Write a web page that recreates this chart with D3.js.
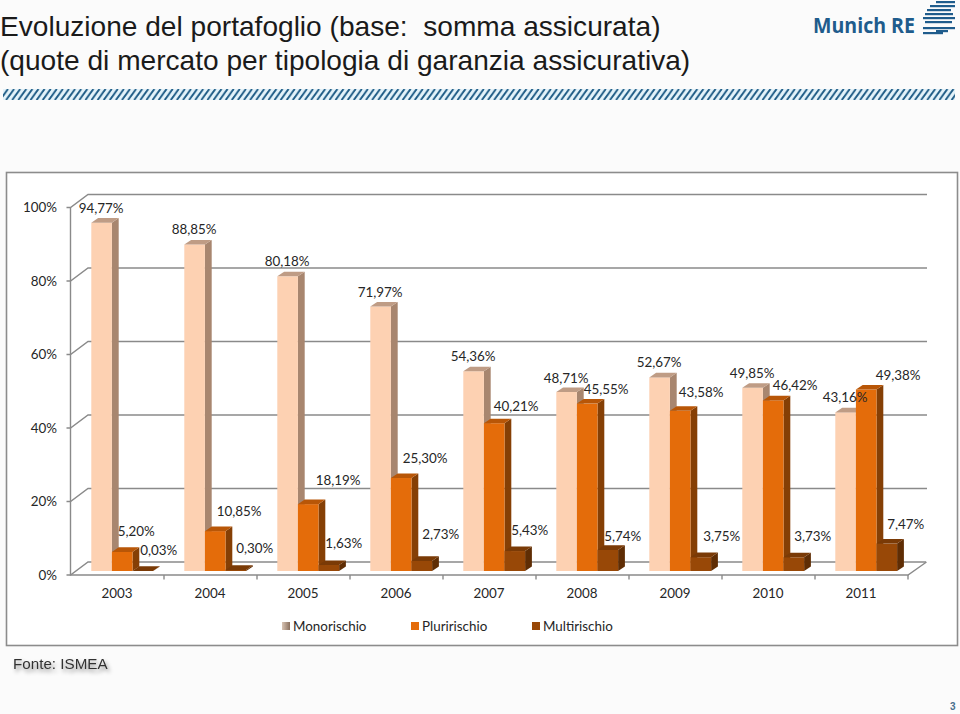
<!DOCTYPE html>
<html><head><meta charset="utf-8">
<script src="https://cdn.jsdelivr.net/npm/d3@7"></script>
<style>html,body{margin:0;padding:0;background:#fbfbfb}svg{display:block}</style>
</head><body><div id="c"></div>
<script>
// ---- data ----
const years = ["2003","2004","2005","2006","2007","2008","2009","2010","2011"];
const seriesNames = ["Monorischio","Pluririschio","Multirischio"];
const monorischio  = [94.77,88.85,80.18,71.97,54.36,48.71,52.67,49.85,43.16];
const pluririschio = [5.20,10.85,18.19,25.30,40.21,45.55,43.58,46.42,49.38];
const multirischio = [0.03,0.30,1.63,2.73,5.43,5.74,3.75,3.73,7.47];
const yTicks = [0,20,40,60,80,100];
const titleLines = ["Evoluzione del portafoglio (base:\u00a0 somma assicurata)","(quote di mercato per tipologia di garanzia assicurativa)"];

// ---- manual data-label nudges, relative to each bar's top centre ----
const labelDx = [
  [-.5,-.5,-.5,-.5,-.5,-.5,-.5,-.5,-.5],
  [14,24,30,24,22,19,21,22,32],
  [16,19,15,19,15,15,21,19,19]];
const labelDy = [
  [-15,-15,-15,-15,-15,-14,-15,-15,-15],
  [-21,-20,-24,-20,-17,-15,-19,-15,-15],
  [-21,-22,-22,-27,-21,-14,-21,-21,-20]];

const values = [monorischio,pluririschio,multirischio];
const fronts = ["#fdd1b2","#e46c0a","#984807"];
const tops   = ["#bf9c85","#b85607","#7a3a06"];
const sides  = ["#a8866f","#853f05","#5f2d04"];

const W=960,H=714;
const svg=d3.select("#c").append("svg").attr("width",W).attr("height",H);
const defs=svg.append("defs");
const pat=defs.append("pattern").attr("id","hatch").attr("patternUnits","userSpaceOnUse")
  .attr("width",6.1).attr("height",11).attr("patternTransform","translate(3,89)");
pat.append("rect").attr("width",6.1).attr("height",11).attr("fill","#e4f3fa");
pat.append("path").attr("d","M-3,11 L5,0 M3.1,11 L11.1,0").attr("stroke","#1f5c86").attr("stroke-width",1.9);
const sh=defs.append("filter").attr("id","shadow").attr("x","-10%").attr("y","-40%").attr("width","125%").attr("height","200%");
sh.append("feDropShadow").attr("dx",2).attr("dy",3).attr("stdDeviation",2).attr("flood-color","#000").attr("flood-opacity",.45);
const lg=defs.append("linearGradient").attr("id","monoSw");
lg.append("stop").attr("offset",0).attr("stop-color","#d8c4b4");
lg.append("stop").attr("offset",1).attr("stop-color","#8a705e");

// page furniture
const titleG=svg.append("g").attr("font-family","'Liberation Sans',Arial,sans-serif").attr("font-size",28.1).attr("fill","#1a1a1a");
titleG.selectAll("text").data(titleLines).join("text").attr("x",0).attr("y",(d,i)=>36+i*34).text(d=>d);
svg.append("rect").attr("x",3).attr("y",89).attr("width",952).attr("height",11).attr("fill","url(#hatch)");

// logo
const logoBlue="#1f5c8c";
svg.append("text").attr("x",813).attr("y",33).attr("font-family","'Open Sans',sans-serif").attr("font-weight",700)
  .attr("font-size",21).attr("textLength",102).attr("lengthAdjust","spacingAndGlyphs").attr("fill",logoBlue).text("Munich RE");
const logoStripes=[[936,955,2],[930,955,6],[927,951,10],[925,953,14],[923,955,18],[925,952,22],[923,955,28],[923,943,33],[936,948,31]];
svg.append("g").selectAll("rect").data(logoStripes).join("rect")
  .attr("x",d=>d[0]).attr("width",d=>d[1]-d[0]).attr("y",d=>d[2]-1).attr("height",2.2).attr("fill",logoBlue);

// chart box
svg.append("rect").attr("x",6.5).attr("y",172.5).attr("width",951).attr("height",473).attr("fill","#fff").attr("stroke","#8c8c8c").attr("stroke-width",1.6);

// scales
const x=d3.scaleBand().domain(years).range([71,908]);
const yFront=d3.scaleLinear().domain([0,100]).range([575,207.5]);
const wallDx=17.5, wallDy=-13;
const yBar=d=>yFront(d)-4;          // bars stand 4px inside the floor
const barW=20.6, depthX=6.8, depthY=-4.6, barStart=20.3;
const gridColor="#8a8a8a";

// walls & grid
const g=svg.append("g").attr("fill","none").attr("stroke",gridColor).attr("stroke-width",1.4);
yTicks.forEach(t=>{
  const y=yFront(t);
  g.append("path").attr("d",`M66.5,${y}H70.5L${70.5+wallDx},${y+wallDy}H${t===0?926:927}`);
});
g.append("path").attr("d",`M70.5,${yFront(100)}V${yFront(0)}H${x.range()[1]}L${x.range()[1]+wallDx+1},${yFront(0)+wallDy}`);
years.forEach((yr,i)=>{
  const xx=x(yr)+x.bandwidth();
  g.append("path").attr("d",`M${xx},575V579.5`);
});

// bars (painter's order: left to right)
const bars=svg.append("g");
years.forEach((yr,i)=>{
  values.forEach((vals,s)=>{
    const v=vals[i], x0=x(yr)+barStart+s*barW, x1=x0+barW, yT=yBar(v), yB=yBar(0);
    const b=bars.append("g");
    b.append("path").attr("fill",sides[s]).attr("d",`M${x1},${yT}L${x1+depthX},${yT+depthY}V${yB+depthY}L${x1},${yB}Z`);
    b.append("rect").attr("fill",fronts[s]).attr("x",x0).attr("y",yT).attr("width",barW).attr("height",Math.max(0,yB-yT));
    b.append("path").attr("fill",tops[s]).attr("d",`M${x0},${yT}L${x0+depthX},${yT+depthY}H${x1+depthX}L${x1},${yT}Z`);
  });
});

// axis labels
const font="Lato,'Open Sans',sans-serif", tc="#262626";
const ax=svg.append("g").attr("font-family",font).attr("font-size",13.4).attr("fill",tc);
ax.selectAll(".yt").data(yTicks).join("text").attr("x",57).attr("text-anchor","end").attr("dominant-baseline","central")
  .attr("y",d=>yFront(d)-.5).text(d=>d+"%");
ax.selectAll(".xt").data(years).join("text").attr("text-anchor","middle")
  .attr("x",d=>x(d)+x.bandwidth()/2-.5).attr("y",597.5).text(d=>d);

// data labels
const fmt=v=>v.toFixed(2).replace(".",",")+"%";
const dl=svg.append("g").attr("font-family",font).attr("font-size",13.4).attr("fill",tc).attr("text-anchor","middle").attr("dominant-baseline","central");
values.forEach((vals,s)=>{
  vals.forEach((v,i)=>{
    dl.append("text").attr("dominant-baseline","central")
      .attr("x",x(years[i])+barStart+s*barW+barW/2+labelDx[s][i])
      .attr("y",yBar(v)+labelDy[s][i]).text(fmt(v));
  });
});

// legend
const legX=[282,411,532];
const lf=svg.append("g").attr("font-family",font).attr("font-size",13.4).attr("fill",tc);
seriesNames.forEach((n,i)=>{
  lf.append("rect").attr("x",legX[i]).attr("y",622).attr("width",8).attr("height",8).attr("fill",i===0?"url(#monoSw)":fronts[i]);
  lf.append("text").attr("x",legX[i]+11).attr("y",630.5).text(n);
});

// footer
svg.append("text").attr("x",13).attr("y",669).attr("font-family","'Liberation Sans',Arial,sans-serif").attr("font-size",15.2)
  .attr("fill","#333").attr("filter","url(#shadow)").text("Fonte: ISMEA");
svg.append("text").attr("x",950).attr("y",710).attr("font-family","'Liberation Sans',Arial,sans-serif").attr("font-size",10)
  .attr("font-weight","bold").attr("fill","#4a6f8c").text("3");
</script></body></html>
